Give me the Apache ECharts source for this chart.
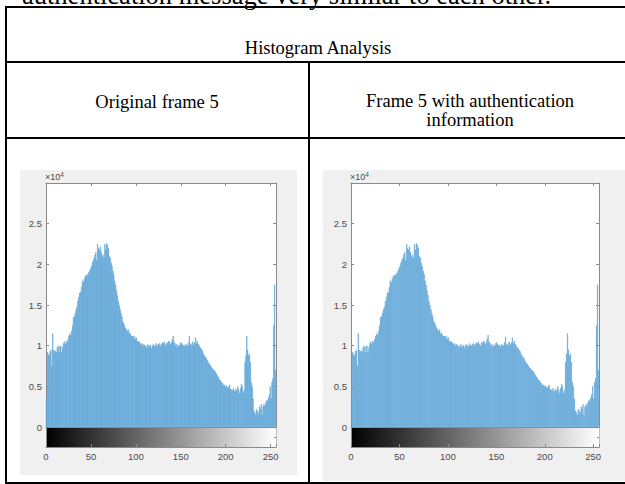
<!DOCTYPE html>
<html>
<head>
<meta charset="utf-8">
<script src="https://cdn.jsdelivr.net/npm/echarts@6/dist/echarts.min.js"></script>
<style>
  html, body { margin: 0; padding: 0; background: #ffffff; }
  #chart { width: 625px; height: 484px; }
</style>
</head>
<body>
<div id="chart"></div>
<script>
// ---- Data (pixel counts in units of 1e4, grey levels 0..255) ----
const originalCounts = [
  0.35, 0.92, 0.90, 0.88, 0.93, 0.95, 0.75, 1.15, 0.95, 0.93, 0.94, 0.92, 0.98, 1.00, 0.92, 0.99,
  1.00, 0.92, 0.98, 1.03, 1.05, 1.02, 1.06, 1.04, 1.08, 1.12, 1.15, 1.13, 1.18, 1.25, 1.35, 1.36,
  1.40, 1.45, 1.48, 1.55, 1.60, 1.65, 1.66, 1.72, 1.80, 1.78, 1.82, 1.85, 1.87, 1.86, 1.88, 1.90,
  1.92, 1.95, 1.98, 2.02, 2.05, 2.08, 2.12, 2.15, 2.05, 2.25, 2.20, 2.18, 2.22, 2.15, 2.10, 2.12,
  2.08, 2.25, 2.18, 2.26, 2.24, 2.20, 2.10, 2.08, 2.02, 1.98, 1.92, 1.88, 1.80, 1.75, 1.68, 1.62,
  1.55, 1.50, 1.45, 1.40, 1.36, 1.30, 1.28, 1.25, 1.22, 1.20, 1.18, 1.20, 1.15, 1.16, 1.13, 1.12,
  1.12, 1.10, 1.12, 1.08, 1.10, 1.06, 1.05, 1.05, 1.04, 1.02, 1.03, 1.00, 1.02, 1.01, 1.00, 0.98,
  1.00, 1.02, 0.98, 1.00, 1.01, 0.97, 1.00, 1.02, 1.00, 0.99, 1.03, 1.01, 1.00, 1.02, 1.03, 1.00,
  1.02, 1.04, 1.03, 1.05, 1.02, 1.00, 1.04, 1.03, 1.06, 1.05, 1.02, 1.04, 1.08, 1.12, 1.05, 1.03,
  1.00, 1.02, 0.98, 1.01, 1.00, 1.03, 1.04, 1.02, 1.00, 1.01, 0.99, 1.02, 1.01, 1.00, 1.04, 1.12,
  1.02, 1.00, 1.03, 1.05, 1.01, 1.04, 1.10, 1.03, 1.06, 1.02, 1.00, 0.98, 0.97, 0.95, 0.93, 0.90,
  0.88, 0.86, 0.85, 0.82, 0.80, 0.78, 0.77, 0.75, 0.73, 0.72, 0.70, 0.70, 0.68, 0.66, 0.64, 0.62,
  0.60, 0.58, 0.57, 0.55, 0.54, 0.52, 0.52, 0.50, 0.51, 0.49, 0.48, 0.50, 0.52, 0.47, 0.46, 0.45,
  0.48, 0.44, 0.45, 0.47, 0.44, 0.50, 0.46, 0.42, 0.48, 0.53, 0.50, 0.42, 0.45, 0.80, 0.88, 1.12,
  0.95, 0.88, 0.90, 0.80, 0.55, 0.50, 0.35, 0.20, 0.18, 0.15, 0.22, 0.20, 0.17, 0.25, 0.22, 0.28,
  0.15, 0.25, 0.28, 0.26, 0.30, 0.33, 0.32, 0.36, 0.40, 0.50, 0.35, 0.55, 0.60, 1.25, 1.75, 0.70
];
const authCounts = [
  0.35, 0.92, 0.90, 0.88, 0.93, 0.95, 0.75, 1.15, 0.95, 0.93, 0.94, 0.92, 0.98, 1.00, 0.92, 0.99,
  1.00, 0.92, 0.98, 1.03, 1.05, 1.02, 1.06, 1.04, 1.08, 1.12, 1.15, 1.13, 1.18, 1.25, 1.35, 1.36,
  1.40, 1.45, 1.48, 1.55, 1.60, 1.65, 1.66, 1.72, 1.80, 1.78, 1.82, 1.85, 1.87, 1.86, 1.88, 1.90,
  1.92, 1.95, 1.98, 2.02, 2.05, 2.08, 2.12, 2.15, 2.05, 2.25, 2.20, 2.18, 2.22, 2.15, 2.10, 2.12,
  2.08, 2.25, 2.18, 2.26, 2.24, 2.20, 2.10, 2.08, 2.02, 1.98, 1.92, 1.88, 1.80, 1.75, 1.68, 1.62,
  1.55, 1.50, 1.45, 1.40, 1.36, 1.30, 1.28, 1.25, 1.22, 1.20, 1.18, 1.20, 1.15, 1.16, 1.13, 1.12,
  1.12, 1.10, 1.12, 1.08, 1.10, 1.06, 1.05, 1.05, 1.04, 1.02, 1.03, 1.00, 1.02, 1.01, 1.00, 0.98,
  1.00, 1.02, 0.98, 1.00, 1.01, 0.97, 1.00, 1.02, 1.00, 0.99, 1.03, 1.01, 1.00, 1.02, 1.03, 1.00,
  1.02, 1.04, 1.03, 1.05, 1.02, 1.00, 1.04, 1.03, 1.06, 1.05, 1.02, 1.04, 1.08, 1.13, 1.05, 1.03,
  1.00, 1.02, 0.98, 1.01, 1.00, 1.03, 1.04, 1.02, 1.00, 1.01, 0.99, 1.02, 1.01, 1.00, 1.04, 1.11,
  1.02, 1.00, 1.03, 1.05, 1.01, 1.04, 1.10, 1.03, 1.06, 1.02, 1.00, 0.98, 0.97, 0.95, 0.93, 0.90,
  0.88, 0.86, 0.85, 0.82, 0.80, 0.78, 0.77, 0.75, 0.73, 0.72, 0.70, 0.70, 0.68, 0.66, 0.64, 0.62,
  0.60, 0.58, 0.57, 0.55, 0.54, 0.52, 0.52, 0.50, 0.51, 0.49, 0.48, 0.50, 0.52, 0.47, 0.46, 0.45,
  0.48, 0.44, 0.45, 0.47, 0.44, 0.50, 0.46, 0.42, 0.48, 0.53, 0.50, 0.42, 0.45, 0.80, 0.90, 1.15,
  0.95, 0.88, 0.90, 0.80, 0.55, 0.50, 0.35, 0.20, 0.18, 0.15, 0.22, 0.20, 0.17, 0.25, 0.22, 0.28,
  0.15, 0.25, 0.28, 0.26, 0.30, 0.33, 0.32, 0.36, 0.40, 0.50, 0.35, 0.55, 0.60, 1.25, 1.75, 0.70
];
const greyLevels = Array.from({ length: 256 }, (_, i) => String(i));
const xTickLabels = [0, 50, 100, 150, 200, 250];
const yTickLabels = [0, 0.5, 1, 1.5, 2, 2.5];

const headerTitle = 'Histogram Analysis';
const leftCaption = 'Original frame 5';
const rightCaption = 'Frame 5 with authentication\ninformation';
const clippedSentence = 'authentication message very similar to each other.';

// ---- styling ----
const AX = '#8a8a8a';
const LBL = '#4a4a4a';
const LFONT = '"Liberation Sans Narrow", "Liberation Sans", Arial, sans-serif';
const SERIF = '"Liberation Serif", "Times New Roman", serif';
const BAR = '#5aa1d6';

const panels = [
  { left: 46, width: 230, data: originalCounts, name: 'Original frame 5' },
  { left: 351, width: 248, data: authCounts, name: 'Frame 5 with authentication information' }
];
const TOP = 183, H = 244, CB = 20;

const grid = [], xAxis = [], yAxis = [], series = [];
panels.forEach((p, k) => {
  const g0 = grid.length;
  grid.push({ left: p.left, top: TOP, width: p.width, height: H, show: true, backgroundColor: '#ffffff', borderWidth: 0 });
  grid.push({
    left: p.left, top: TOP + H, width: p.width, height: CB, show: true, borderWidth: 0,
    backgroundColor: new echarts.graphic.LinearGradient(0, 0, 1, 0, [
      { offset: 0, color: '#000000' }, { offset: 1, color: '#ffffff' }
    ])
  });
  const xa = xAxis.length;
  xAxis.push({
    type: 'category', gridIndex: g0, data: greyLevels, boundaryGap: true,
    axisLine: { show: true, lineStyle: { color: AX, width: 1 } },
    axisTick: { show: false }, axisLabel: { show: false }, splitLine: { show: false }
  });
  xAxis.push({
    type: 'value', gridIndex: g0, position: 'top', min: 0, max: 256, interval: 50,
    axisLine: { show: true, onZero: false, lineStyle: { color: AX, width: 1 } },
    axisTick: { show: true, inside: true, length: 3, lineStyle: { color: AX } },
    axisLabel: { show: false }, splitLine: { show: false }
  });
  xAxis.push({
    type: 'value', gridIndex: g0 + 1, position: 'bottom', min: 0, max: 256, interval: 50,
    axisLine: { show: true, onZero: false, lineStyle: { color: AX, width: 1 } },
    axisTick: { show: true, inside: true, length: 3, lineStyle: { color: AX } },
    axisLabel: {
      show: true, margin: 4, color: LBL, fontSize: 9.5, fontFamily: LFONT,
      formatter: v => (xTickLabels.indexOf(v) >= 0 ? String(v) : '')
    },
    splitLine: { show: false }
  });
  const ya = yAxis.length;
  yAxis.push({
    type: 'value', gridIndex: g0, position: 'left', min: 0, max: 3, interval: 0.5,
    axisLine: { show: true, onZero: false, lineStyle: { color: AX, width: 1 } },
    axisTick: { show: true, inside: true, length: 3, lineStyle: { color: AX } },
    axisLabel: {
      show: true, margin: 4, color: LBL, fontSize: 9.5, fontFamily: LFONT,
      formatter: v => (yTickLabels.indexOf(v) >= 0 ? String(v) : '')
    },
    splitLine: { show: false }
  });
  yAxis.push({
    type: 'value', gridIndex: g0, position: 'right', min: 0, max: 3, interval: 0.5,
    axisLine: { show: true, onZero: false, lineStyle: { color: AX, width: 1 } },
    axisTick: { show: true, inside: true, length: 3, lineStyle: { color: AX } },
    axisLabel: { show: false }, splitLine: { show: false }
  });
  yAxis.push({
    type: 'value', gridIndex: g0 + 1, position: 'left', min: 0, max: 1, interval: 1,
    axisLine: { show: true, onZero: false, lineStyle: { color: AX, width: 1 } },
    axisTick: { show: false }, axisLabel: { show: false }, splitLine: { show: false }
  });
  yAxis.push({
    type: 'value', gridIndex: g0 + 1, position: 'right', min: 0, max: 1, interval: 0.5,
    axisLine: { show: true, onZero: false, lineStyle: { color: '#bdbdbd', width: 1 } },
    axisTick: { show: true, inside: true, length: 2, lineStyle: { color: AX } },
    axisLabel: { show: false }, splitLine: { show: false }
  });
  series.push({
    type: 'bar', name: p.name, xAxisIndex: xa, yAxisIndex: ya, data: p.data,
    barWidth: '100%', barCategoryGap: '0%',
    itemStyle: { color: BAR, borderColor: BAR, borderWidth: 0.4 },
    animation: false, silent: true
  });
});

const LINE = { stroke: '#000000', lineWidth: 2 };
const exponentRich = {
  a: { fontSize: 9, fontFamily: LFONT, fill: LBL },
  b: { fontSize: 6.5, fontFamily: LFONT, fill: LBL, verticalAlign: 'top', padding: [0, 0, 6, 0] }
};
const graphic = [
  { type: 'rect', z: -10, shape: { x: 20, y: 170, width: 277, height: 305 }, style: { fill: '#f0f0f0' }, silent: true },
  { type: 'rect', z: -10, shape: { x: 323, y: 170, width: 302, height: 311 }, style: { fill: '#f0f0f0' }, silent: true },
  { type: 'line', z: 100, shape: { x1: 5, y1: 7, x2: 625, y2: 7 }, style: LINE, silent: true },
  { type: 'line', z: 100, shape: { x1: 5, y1: 62, x2: 625, y2: 62 }, style: LINE, silent: true },
  { type: 'line', z: 100, shape: { x1: 5, y1: 138, x2: 625, y2: 138 }, style: LINE, silent: true },
  { type: 'line', z: 100, shape: { x1: 5, y1: 483, x2: 625, y2: 483 }, style: LINE, silent: true },
  { type: 'line', z: 100, shape: { x1: 6, y1: 6, x2: 6, y2: 484 }, style: LINE, silent: true },
  { type: 'line', z: 100, shape: { x1: 309, y1: 62, x2: 309, y2: 484 }, style: LINE, silent: true },
  { type: 'text', z: 100, x: 22, y: -5.5, style: { text: clippedSentence, font: '26.5px ' + SERIF, fill: '#000', verticalAlign: 'middle', align: 'left' }, silent: true },
  { type: 'text', z: 100, x: 318, y: 48, style: { text: headerTitle, font: '18.5px ' + SERIF, fill: '#000', verticalAlign: 'middle', align: 'center' }, silent: true },
  { type: 'text', z: 100, x: 157, y: 102, style: { text: leftCaption, font: '18.5px ' + SERIF, fill: '#000', verticalAlign: 'middle', align: 'center' }, silent: true },
  { type: 'text', z: 100, x: 470, y: 110, style: { text: rightCaption, font: '18.5px ' + SERIF, fill: '#000', verticalAlign: 'middle', align: 'center', lineHeight: 19 }, silent: true },
  { type: 'text', z: 100, x: 45, y: 177, style: { text: '{a|×10}{b|4}', fill: LBL, verticalAlign: 'middle', rich: exponentRich }, silent: true },
  { type: 'text', z: 100, x: 350, y: 177, style: { text: '{a|×10}{b|4}', fill: LBL, verticalAlign: 'middle', rich: exponentRich }, silent: true }
];

const chart = echarts.init(document.getElementById('chart'), null, { renderer: 'svg' });
chart.setOption({
  animation: false,
  backgroundColor: '#ffffff',
  grid, xAxis, yAxis, series, graphic
});
</script>
</body>
</html>
